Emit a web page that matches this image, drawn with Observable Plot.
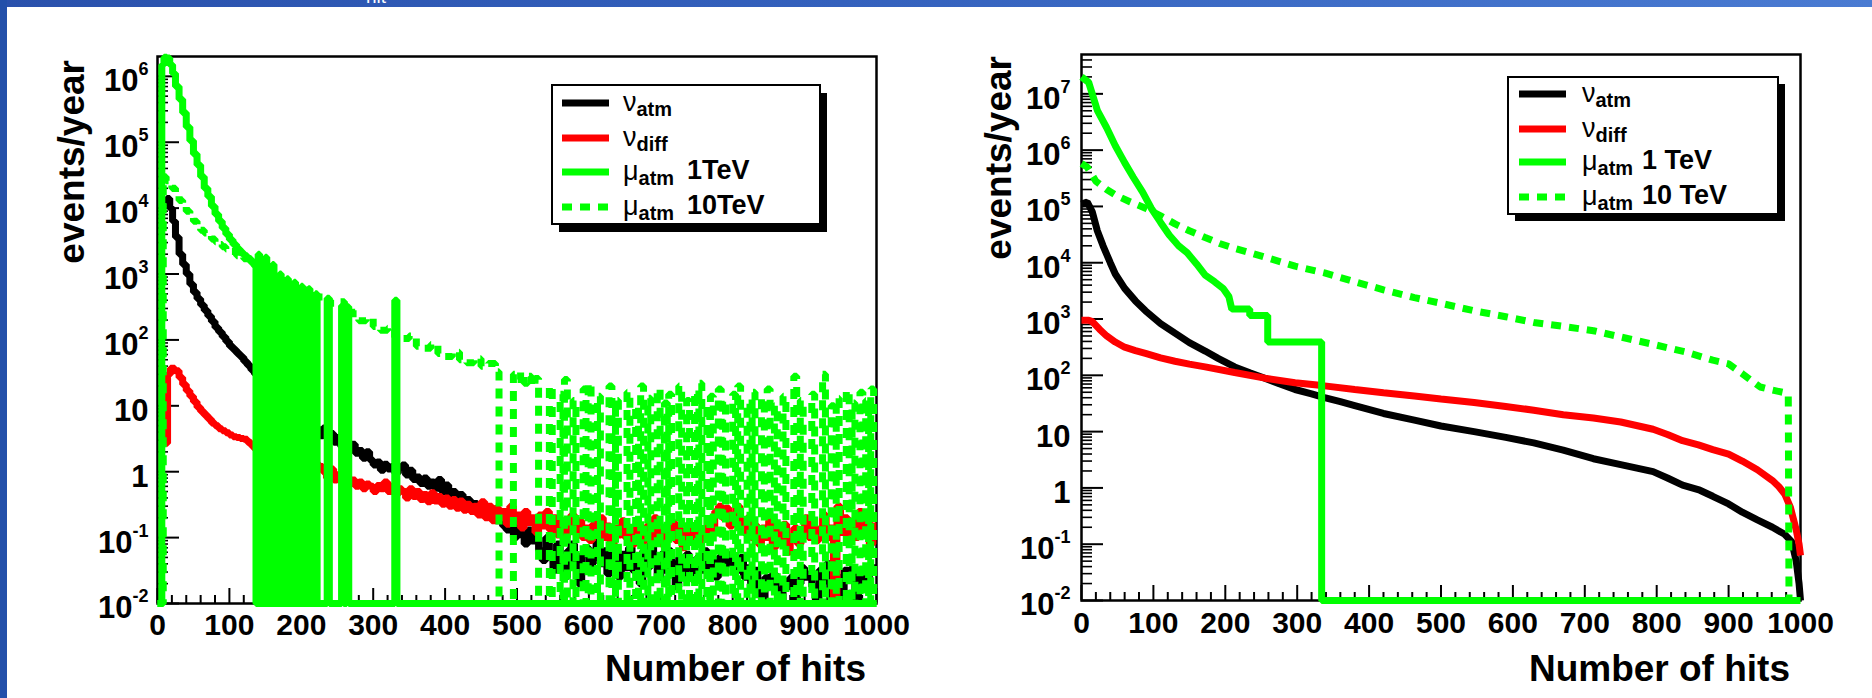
<!DOCTYPE html>
<html><head><meta charset="utf-8">
<script src="https://cdn.jsdelivr.net/npm/d3@7"></script>
<script src="https://cdn.jsdelivr.net/npm/@observablehq/plot@0.6"></script>
<style>
html,body{margin:0;padding:0;background:#fff;}
#page{position:relative;width:1872px;height:698px;overflow:hidden;background:#fff;font-family:"Liberation Sans",Arial,Helvetica,sans-serif;}
.panel{position:absolute;top:0;}
#band-top{position:absolute;left:0;top:0;width:1872px;height:7px;background:linear-gradient(90deg,#2a51ac 0%,#3461bd 45%,#4a7bd2 100%);z-index:5;overflow:hidden}
#band-top span{position:absolute;left:366px;top:-14px;color:#fff;font-size:19px;font-family:"Liberation Sans",Arial,sans-serif;}
#band-left{position:absolute;left:0;top:0;width:7px;height:698px;background:#2350aa;z-index:5}
</style></head>
<body><div id="page">
<div class="panel" id="left" style="left:0"></div>
<div class="panel" id="right" style="left:936px"></div>
<div id="band-top"><span>hit</span></div><div id="band-left"></div>
</div>
<script>
// ---------- tick labels / text ----------
const hitTicks = [0,100,200,300,400,500,600,700,800,900,1000];
const hitTickText = ["0","100","200","300","400","500","600","700","800","900","1000"];
const yTicksLeft = [1e-2,1e-1,1,10,1e2,1e3,1e4,1e5,1e6];
const yTickTextLeft = ["10^-2","10^-1","1","10","10^2","10^3","10^4","10^5","10^6"];
const yTicksRight = [1e-2,1e-1,1,10,1e2,1e3,1e4,1e5,1e6,1e7];
const yTickTextRight = ["10^-2","10^-1","1","10","10^2","10^3","10^4","10^5","10^6","10^7"];
const yTitle = "events/year";
const xTitle = "Number of hits";
const seriesColors = ["#000000","#ff0000","#00ff00","#00ff00"];
const seriesDash = [null,null,null,"10,8"];
const legendGreek = ["\u03bd","\u03bd","\u03bc","\u03bc"];
const legendSub = ["atm","diff","atm","atm"];
const legendTextLeft = ["","","1TeV","10TeV"];
const legendTextRight = ["","","1 TeV","10 TeV"];

// ---------- left panel data: [hits (bin start), events/year] ----------
const nuAtmLeft = [[11,1.2e4],[13,14000],[17,10000],[21,6300],[25,3600],[30,2000],[35,1400],[40,1000],[45,700],[50,530],[55,420],[60,340],[65,280],[70,230],[75,190],[80,155],[85,132],[90,112],[95,95],[100,80],[105,71],[110,62],[115,55],[120,47],[125,41],[130,35],[135,30],[140,27],[150,22],[160,18],[170,14],[180,11],[190,8.5],[200,6.8],[210,5.5],[220,4.5],
[225,3.5],[230,4.6],[235,3.2],[240,3.8],[245,2.8],[250,3.3],[255,2.4],[260,2.75],[265,2.2],[270,2.6],[275,1.9],[280,2.1],[285,1.6],[290,2],[295,1.5],[300,1.26],[305,1.4],[310,1.05],[315,1.3],[320,1.1],[325,1.2],[330,0.95],[335,1.15],[340,1.26],[345,0.89],[350,1.05],[355,0.76],[360,0.83],[365,0.66],[370,0.8],[375,0.6],[380,0.7],[385,0.56],[390,0.76],[395,0.5],[400,0.63],[405,0.42],[410,0.5],[415,0.35],[420,0.45],[425,0.32],[430,0.38],[435,0.28],[440,0.33],[445,0.25],[450,0.32],[455,0.24],[460,0.28],[465,0.2],[470,0.18],[475,0.22],[480,0.15],[485,0.13],[490,0.18],[495,0.1],[500,0.14],[505,0.11],[510,0.08],[515,0.13],[520,0.089],[525,0.12],[530,0.063],[535,0.045],[540,0.1],[545,0.056],[550,0.032],[555,0.08],[560,0.05],[565,0.025],[570,0.063],[575,0.08],[580,0.04],[585,0.02],[590,0.056],[595,0.07],[600,0.032],[605,0.05],[610,0.089],[615,0.04],[620,0.063],[625,0.028],[630,0.08],[635,0.05],[640,0.025],[645,0.056],[650,0.035],[655,0.07],[660,0.032],[665,0.05],[670,0.02],[675,0.063],[680,0.035],[685,0.08],[690,0.045],[695,0.025],[700,0.056],[705,0.032],[710,0.063],[715,0.04],[720,0.018],[725,0.05],[730,0.028],[735,0.056],[740,0.035],[745,0.022],[750,0.05],[755,0.032],[760,0.063],[765,0.028],[770,0.045],[775,0.025],[780,0.05],[785,0.035],[790,0.056],[795,0.04],[800,0.045],[805,0.032],[810,0.05],[815,0.025],[820,0.035],[825,0.02],[830,0.032],[835,0.016],[840,0],[845,0.025],[850,0.018],[855,0.028],[860,0.016],[865,0],[870,0.022],[875,0.018],[880,0.025],[885,0],[890,0.02],[895,0.035],[900,0.025],[905,0.028],[910,0.018],[915,0],[920,0.032],[925,0.022],[930,0.04],[935,0],[940,0.028],[945,0.02],[950,0],[955,0.032],[960,0.025],[965,0.035],[970,0],[975,0.028],[980,0.025],[985,0.02],[990,0.032],[995,0.035],[1000,0.035]];

const nuDiffLeft = [[12,2.7],[14,30],[18,37],[24,34],[30,27],[35,21],[40,17],[45,14],[50,11.5],[55,9.5],[60,8.2],[65,7.2],[70,6.3],[75,5.5],[80,5],[85,4.5],[90,4.2],[95,3.9],[100,3.6],[105,3.4],[110,3.3],[115,3.2],[120,3.1],[125,2.8],[130,2.5],[135,2.2],[140,2.1],[160,1.9],[180,1.7],[200,1.5],[220,1.3],[225,1.2],[230,1.0],[235,0.8],[240,1.1],[245,0.75],[250,0.9],[255,0.7],[260,0.85],[265,0.65],[270,0.75],[275,0.6],[280,0.7],[285,0.55],[290,0.65],[295,0.6],[300,0.5],[305,0.62],[310,0.55],[315,0.7],[320,0.5],[325,0.6],[330,0.45],[335,0.55],[340,0.5],[345,0.4],[350,0.55],[355,0.42],[360,0.5],[365,0.38],[370,0.45],[375,0.35],[380,0.48],[385,0.36],[390,0.42],[395,0.32],[400,0.4],[405,0.3],[410,0.38],[415,0.28],[420,0.36],[425,0.26],[430,0.32],[435,0.25],[440,0.3],[445,0.22],[450,0.35],[455,0.2],[460,0.3],[465,0.18],[470,0.28],[475,0.2],[480,0.25],[485,0.16],[490,0.3],[495,0.18],[500,0.22],[505,0.14],[510,0.25],[515,0.17],[520,0.2],[525,0.12],[530,0.22],[535,0.15],[540,0.25],[545,0.13],[550,0.2],[555,0.11],[560,0.18],[565,0.1],[570,0.15],[575,0.22],[580,0.12],[585,0.18],[590,0.1],[595,0.14],[600,0.09],[605,0.16],[610,0.12],[615,0.2],[620,0.1],[625,0.15],[630,0.08],[635,0.14],[640,0.11],[645,0.18],[650,0.1],[655,0.13],[660,0.08],[665,0.16],[670,0.12],[675,0.09],[680,0.15],[685,0.1],[690,0.2],[695,0.12],[700,0.08],[705,0.14],[710,0.1],[715,0.17],[720,0.09],[725,0.13],[730,0.07],[735,0.12],[740,0.1],[745,0.15],[750,0.08],[755,0.13],[760,0.1],[765,0.18],[770,0.12],[775,0.25],[780,0.3],[785,0.2],[790,0.28],[795,0.15],[800,0.22],[805,0.3],[810,0.18],[815,0.12],[820,0.2],[825,0.1],[830,0.15],[835,0.08],[840,0.14],[845,0.1],[850,0.18],[855,0.07],[860,0.12],[865,0.09],[870,0.16],[875,0.06],[880,0.1],[885,0.14],[890,0.08],[895,0.12],[900,0.2],[905,0.1],[910,0.15],[915,0.09],[920,0.13],[925,0.22],[930,0.1],[935,0.14],[940,0],[945,0.3],[950,0.12],[955,0.2],[960,0.09],[965,0.15],[970,0.1],[975,0.25],[980,0.12],[985,0.18],[990,0.08],[995,0.15],[1000,0.15]];

const muAtm1Left = [[0,0],[6,1.5e6],[9,1.95e6],[13,1.9e6],[17,1.5e6],[21,1.1e6],[25,7e5],[30,4.5e5],[35,2.8e5],[40,1.7e5],[45,1.05e5],[50,6.6e4],[55,4.5e4],[60,3e4],[65,2e4],[70,1.5e4],[75,1.07e4],[80,8100],[85,6300],[90,5000],[95,4000],[100,3300],[105,2800],[110,2400],[115,2100],[120,1900],[125,1700],[130,1500],[135,1300],[137,0],[140,2000],[142,0],[145,1100],[147,0],[150,1800],[152,0],[155,900],[157,0],[160,1400],[162,0],[165,800],[167,0],[170,1000],[172,0],[175,700],[177,0],[180,850],[182,0],[185,600],[187,0],[190,750],[192,0],[195,550],[197,0],[200,650],[202,0],[205,500],[207,0],[210,600],[212,0],[215,450],[217,0],[220,500],[222,0],[236,430],[239,0],[256,330],[259,0],[263,320],[266,0],[330,400],[333,0],[1000,0]];

const muAtm10Left = [[0,0],[8,3e4],[12,2.6e4],[16,2.3e4],[20,2e4],[25,1.6e4],[30,1.3e4],[35,1.05e4],[40,9000],[45,7500],[50,6300],[55,5300],[60,4600],[65,4200],[70,3800],[75,3400],[80,3100],[85,2800],[90,2600],[95,2400],[100,2200],[110,1900],[120,1700],[130,1400],[140,1250],[150,1050],[160,900],[170,800],[180,700],[190,620],[200,570],[210,500],[220,450],[230,400],[240,360],[250,380],[260,300],[270,250],[280,195],[290,210],[300,160],[310,140],[320,150],[330,110],[340,105],[350,115],[360,80],[370,75],[380,85],[390,62],[400,56],[410,65],[420,50],[430,45],[440,52],[450,40],[460,44],[470,33],[475,0],[495,30],[500,25],[505,32],[510,22],[515,28],[520,20],[525,26],[530,0],[545,20],[549,0],[560,15],[564,0],[566,25],[570,0],[578,12],[582,0],[592,18],[596,0],[599,22],[603,0],[612,14],[616,0],[628,20],[632,0],[637,12],[641,0],[653,16],[657,0],[665,10],[669,0],[672,20],[676,0],[682,13],[686,0],[695,18],[699,0],[705,11],[709,0],[711,15],[715,0],[725,20],[729,0],[736,12],[740,0],[747,16],[751,0],[753,22],[757,0],[764,10],[768,0],[769,14],[773,0],[780,18],[784,0],[786,12],[790,0],[800,15],[804,0],[807,20],[811,0],[820,11],[824,0],[827,16],[831,0],[840,13],[844,0],[848,18],[852,0],[858,10],[862,0],[870,14],[874,0],[885,28],[889,0],[894,12],[898,0],[910,15],[914,0],[925,30],[929,0],[937,10],[941,0],[944,13],[948,0],[958,17],[962,0],[966,11],[970,0],[977,16],[981,0],[985,12],[989,0],[992,18],[996,0],[1000,0]];

// ---------- right panel data: [hits, events/year] ----------
const nuAtmRight = [[0,1.1e5],[8,1.2e5],[15,8e4],[22,3.7e4],[30,2e4],[40,1e4],[47,6300],[60,3500],[75,2100],[89,1400],[110,830],[130,560],[150,380],[172,270],[190,200],[213,141],[235,110],[255,89],[275,71],[297,56],[320,47],[338,40],[360,34],[380,29],[420,21],[463,16],[500,12.6],[546,10],[590,7.9],[629,6.3],[670,4.7],[712,3.3],[750,2.6],[795,1.95],[815,1.5],[836,1.12],[860,0.91],[878,0.71],[900,0.52],[919,0.37],[940,0.27],[961,0.2],[978,0.15],[988,0.11],[994,0.05],[998,0.02],[1000,0]];
const nuDiffRight = [[0,950],[10,950],[15,900],[25,660],[35,500],[47,390],[60,316],[75,275],[89,245],[110,204],[130,178],[150,158],[172,141],[213,112],[255,89],[297,74],[338,65],[380,56],[420,49],[463,43],[500,38],[546,33],[590,28],[629,24],[670,20],[712,17.4],[750,14.8],[795,11],[815,8.9],[836,6.9],[858,5.8],[878,4.8],[900,4],[919,3],[940,2.1],[961,1.35],[970,1.05],[978,0.78],[986,0.45],[994,0.18],[998,0.1],[1000,0.063]];
const muAtm1Right = [[0,2e7],[10,1.6e7],[22,5.1e6],[35,2.5e6],[47,1.2e6],[60,6e5],[72,3.3e5],[85,1.8e5],[97,9.3e4],[110,5.2e4],[122,3.1e4],[135,2e4],[147,1.5e4],[160,9500],[172,6000],[185,4600],[197,3500],[205,2500],[209,1500],[234,1500],[234,1150],[259,1150],[259,390],[334,390],[334,0],[1000,0]];
const muAtm10Right = [[0,5.8e5],[8,5e5],[20,2.8e5],[35,2e5],[47,1.6e5],[68,1.2e5],[89,9.3e4],[110,6.8e4],[130,4.9e4],[150,3.7e4],[172,2.8e4],[192,2.2e4],[213,1.8e4],[235,1.5e4],[255,1.26e4],[297,8700],[338,6600],[380,4600],[420,3300],[463,2400],[500,1900],[546,1400],[590,1100],[629,870],[670,740],[712,620],[750,480],[795,355],[840,260],[878,186],[900,160],[919,107],[932,80],[944,62],[960,55],[975,50],[983,45],[984,0],[1000,0]];

// ---------- drawing ----------
const FONT = '"Liberation Sans", Arial, Helvetica, sans-serif';

function panel(opts) {
  const {width, height, mt, mr, mb, ml, yMax, yTicks, yTickText, series, curve,
         yPad, xPad, legend, yTitlePos, xTitlePos} = opts;
  const fw = width - ml - mr, fh = height - mt - mb;
  const yMin = 0.01;
  const labelOf = new Map(yTicks.map((v, i) => [v, yTickText[i]]));
  const xLabelOf = new Map(hitTicks.map((v, i) => [v, hitTickText[i]]));
  const xMinor = [];
  for (let h = 0; h <= 1000; h += 20) if (h % 100) xMinor.push(h);
  const yMinor = [];
  for (let k = -2; k < 8; k++) for (let m = 2; m < 10; m++) {
    const v = m * Math.pow(10, k);
    if (v < yMax) yMinor.push(v);
  }
  const lines = series.map((s, i) => Plot.line(s.map(([x, v]) => ({x, v})), {
    x: "x", y: d => Math.max(d.v, yMin), curve,
    stroke: seriesColors[i], strokeWidth: 7,
    strokeDasharray: seriesDash[i], strokeLinecap: "butt", strokeLinejoin: "miter"
  }));
  const svg = Plot.plot({
    width, height, marginTop: mt, marginRight: mr, marginBottom: mb, marginLeft: ml,
    style: {background: "transparent", fontFamily: FONT, fontWeight: "bold", color: "#000", overflow: "visible"},
    x: {domain: [0, 1000]},
    y: {type: "log", domain: [yMin, yMax]},
    marks: [
      Plot.ruleX(xMinor, {x: d => d, insetTop: fh - 8, stroke: "#000", strokeWidth: 2}),
      Plot.ruleX(hitTicks, {x: d => d, insetTop: fh - 15, stroke: "#000", strokeWidth: 2}),
      Plot.ruleY(yMinor, {y: d => d, insetRight: fw - 11, stroke: "#000", strokeWidth: 1.6}),
      Plot.ruleY(yTicks, {y: d => d, insetRight: fw - 22, stroke: "#000", strokeWidth: 2}),
      Plot.axisX({ticks: hitTicks, tickSize: 0, tickPadding: xPad, fontSize: 30, tickFormat: d => xLabelOf.get(d), label: null}),
      Plot.axisY({ticks: yTicks, tickSize: 0, tickPadding: yPad, fontSize: 31, dy: 5, tickFormat: d => labelOf.get(d), label: null}),
      Plot.frame({stroke: "#000", strokeWidth: 2.5}),
      ...lines
    ]
  });
  const root = d3.select(svg);
  // superscript exponents on the log-axis labels
  root.selectAll('g[aria-label="y-axis tick label"] text').each(function () {
    const s = this.textContent, k = s.indexOf("^");
    if (k < 0) return;
    const t = d3.select(this);
    t.text(s.slice(0, k));
    t.append("tspan").attr("dy", -16).attr("font-size", 18).text(s.slice(k + 1));
  });
  // axis titles
  root.append("text").attr("transform", `translate(${yTitlePos[0]},${yTitlePos[1]}) rotate(-90)`)
    .attr("text-anchor", "end").attr("font-size", 37).attr("font-weight", "bold").text(yTitle);
  root.append("text").attr("x", xTitlePos[0]).attr("y", xTitlePos[1])
    .attr("text-anchor", "end").attr("font-size", 37).attr("font-weight", "bold").text(xTitle);
  // legend
  const L = legend, g = root.append("g").attr("text-anchor", "start");
  g.append("rect").attr("x", L.x + L.sx).attr("y", L.y + L.sy).attr("width", L.w).attr("height", L.h).attr("fill", "#000");
  g.append("rect").attr("x", L.x).attr("y", L.y).attr("width", L.w).attr("height", L.h)
    .attr("fill", "#fff").attr("stroke", "#000").attr("stroke-width", 2);
  L.rows.forEach((cy, i) => {
    g.append("line").attr("x1", L.s1).attr("x2", L.s2).attr("y1", cy).attr("y2", cy)
      .attr("stroke", seriesColors[i]).attr("stroke-width", 7)
      .attr("stroke-dasharray", seriesDash[i]);
    const t = g.append("text").attr("x", L.gx).attr("y", cy + 8).attr("text-anchor", "start");
    t.append("tspan").attr("font-weight", "normal").attr("font-size", 27).text(legendGreek[i]);
    t.append("tspan").attr("font-weight", "bold").attr("font-size", 20).attr("dy", 5).text(legendSub[i]);
    if (L.text[i]) g.append("text").attr("x", L.tx).attr("y", cy + 7).attr("text-anchor", "start")
      .attr("font-size", 27).attr("font-weight", "bold").text(L.text[i]);
  });
  return svg;
}

document.getElementById("left").appendChild(panel({
  width: 936, height: 698, mt: 56, mr: 60, mb: 95, ml: 157,
  yMax: 2e6, yTicks: yTicksLeft, yTickText: yTickTextLeft,
  series: [nuAtmLeft, nuDiffLeft, muAtm1Left, muAtm10Left], curve: "step-after",
  yPad: 9, xPad: 10,
  yTitlePos: [84, 60], xTitlePos: [866, 681],
  legend: {x: 552, y: 85, w: 268, h: 139, sx: 7, sy: 8, rows: [103, 138, 172, 207],
           s1: 562, s2: 609, gx: 623, tx: 687, text: legendTextLeft}
}));

document.getElementById("right").appendChild(panel({
  width: 936, height: 698, mt: 54, mr: 72, mb: 98, ml: 145,
  yMax: 5e7, yTicks: yTicksRight, yTickText: yTickTextRight,
  series: [nuAtmRight, nuDiffRight, muAtm1Right, muAtm10Right], curve: "linear",
  yPad: 11, xPad: 11,
  yTitlePos: [75, 56], xTitlePos: [854, 681],
  legend: {x: 572, y: 77, w: 270, h: 137, sx: 7, sy: 7, rows: [94, 129, 162, 197],
           s1: 583, s2: 630, gx: 646, tx: 706, text: legendTextRight}
}));
</script>
</body></html>
